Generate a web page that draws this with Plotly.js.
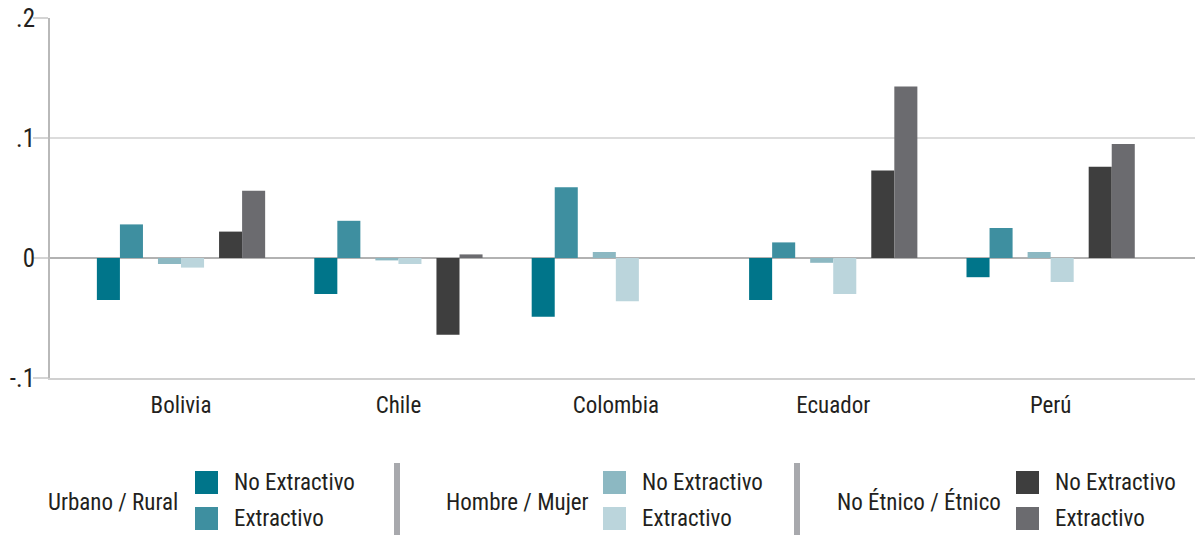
<!DOCTYPE html>
<html><head><meta charset="utf-8">
<script src="https://cdn.plot.ly/plotly-3.0.1.min.js"></script>
<style>html,body{margin:0;padding:0;background:#fff}#chart{width:1195px;height:535px}</style>
</head><body><div id="chart"></div>
<script>
// ---- data ----
const countries = ['Bolivia', 'Chile', 'Colombia', 'Ecuador', 'Perú'];
const urbanoNoExt = [-0.035, -0.030, -0.049, -0.035, -0.016];
const urbanoExt   = [0.028, 0.031, 0.059, 0.013, 0.025];
const hombreNoExt = [-0.005, -0.002, 0.005, -0.004, 0.005];
const hombreExt   = [-0.008, -0.005, -0.036, -0.030, -0.020];
const etnicoNoExt = [0.022, -0.064, null, 0.073, 0.076];
const etnicoExt   = [0.056, 0.003, null, 0.143, 0.095];
const yTickVals = [-0.1, 0, 0.1, 0.2];
const yTickText = ['-.1', '0', '.1', '.2'];
const groupTitles = ['Urbano / Rural', 'Hombre / Mujer', 'No Étnico / Étnico'];
const itemLabels = ['No Extractivo', 'Extractivo'];

// ---- styles ----
const colors = ['#00758a', '#3e8fa0', '#8cb8c2', '#bbd5dc', '#3e3e3e', '#6b6b6f'];
const seriesValues = [urbanoNoExt, urbanoExt, hombreNoExt, hombreExt, etnicoNoExt, etnicoExt];
const FONT = 'Roboto Condensed, Roboto, sans-serif';
const FS = 23;
const FW = 400;
const TXT = '#231f20';
const W = 1195, H = 535, ML = 50, MR = 0, MT = 18, MB = 157;
const plotW = W - ML - MR, plotH = H - MT - MB;
const xRange = [-0.6026, 4.664];
const barW = 0.106, pairGap = 0.281;
const offsets = [-pairGap - barW, -pairGap, -barW, 0, pairGap - barW, pairGap];

const traces = seriesValues.map((vals, i) => ({
  type: 'bar', x: countries, y: vals,
  width: barW, offset: offsets[i],
  marker: {color: colors[i], line: {width: 0}},
  name: groupTitles[Math.floor(i / 2)] + ' – ' + itemLabels[i % 2],
  showlegend: false, hoverinfo: 'x+y+name'
}));

// pixel -> paper helpers for the custom legend
const px2x = p => (p - ML) / plotW;
const py2y = p => (H - MB - p) / plotH;

const titleRight = [180, 591, 1003];
const swatchX = [195, 603, 1016];
const rowTop = [471, 507];
const SW = 23;
const sepX = [397, 797];
const legFont = {family: FONT, size: FS, color: TXT, weight: FW};

const shapes = [], annotations = [];
groupTitles.forEach((t, g) => {
  annotations.push({
    xref: 'paper', yref: 'paper', x: px2x(titleRight[g]), y: py2y(502),
    xanchor: 'right', yanchor: 'middle', text: t, showarrow: false,
    font: legFont
  });
  itemLabels.forEach((lab, k) => {
    const ci = g * 2 + k;
    shapes.push({
      type: 'rect', xref: 'paper', yref: 'paper',
      x0: px2x(swatchX[g]), x1: px2x(swatchX[g] + SW),
      y0: py2y(rowTop[k]), y1: py2y(rowTop[k] + SW),
      fillcolor: colors[ci], line: {width: 0}
    });
    annotations.push({
      xref: 'paper', yref: 'paper', x: px2x(swatchX[g] + 37), y: py2y(rowTop[k] + SW / 2),
      xanchor: 'left', yanchor: 'middle', text: lab, showarrow: false,
      font: legFont
    });
  });
});
sepX.forEach(sx => {
  shapes.push({
    type: 'line', xref: 'paper', yref: 'paper',
    x0: px2x(sx), x1: px2x(sx), y0: py2y(463), y1: py2y(535),
    line: {color: '#a8a9ad', width: 6}
  });
});

const layout = {
  width: W, height: H,
  margin: {l: ML, r: MR, t: MT, b: MB, pad: 0},
  paper_bgcolor: '#ffffff', plot_bgcolor: '#ffffff',
  font: {family: FONT, size: FS, color: TXT, weight: FW},
  barmode: 'group',
  showlegend: false,
  xaxis: {
    type: 'category', categoryorder: 'array', categoryarray: countries,
    range: xRange, showgrid: false, zeroline: false,
    showline: true, linecolor: '#d0d0d0', linewidth: 2,
    ticks: '', ticklabelstandoff: 5,
    tickfont: {family: FONT, size: FS, color: TXT, weight: FW}
  },
  xaxis2: {
    overlaying: 'x', anchor: 'y', type: 'linear', range: xRange,
    tickmode: 'array', tickvals: [xRange[0], 0.5, 1.5, 2.5, 3.5],
    ticks: 'outside', ticklen: 9, tickwidth: 2, tickcolor: '#c4c4c4',
    showticklabels: false, showgrid: false, zeroline: false, showline: false
  },
  yaxis: {
    range: [-0.1, 0.2], tickmode: 'array', tickvals: yTickVals, ticktext: yTickText,
    showgrid: true, gridcolor: '#dcdcdc', gridwidth: 2,
    zeroline: true, zerolinecolor: '#b2b2b2', zerolinewidth: 2,
    showline: true, linecolor: '#b9b9b9', linewidth: 2,
    ticks: 'outside', ticklen: 15, tickwidth: 2, tickcolor: '#d4d4d4',
    ticklabelstandoff: -7,
    tickfont: {family: FONT, size: 25, color: TXT, weight: FW}
  },
  shapes: shapes,
  annotations: annotations
};

Plotly.newPlot('chart', traces, layout, {displayModeBar: false, staticPlot: true});
</script>
</body></html>
